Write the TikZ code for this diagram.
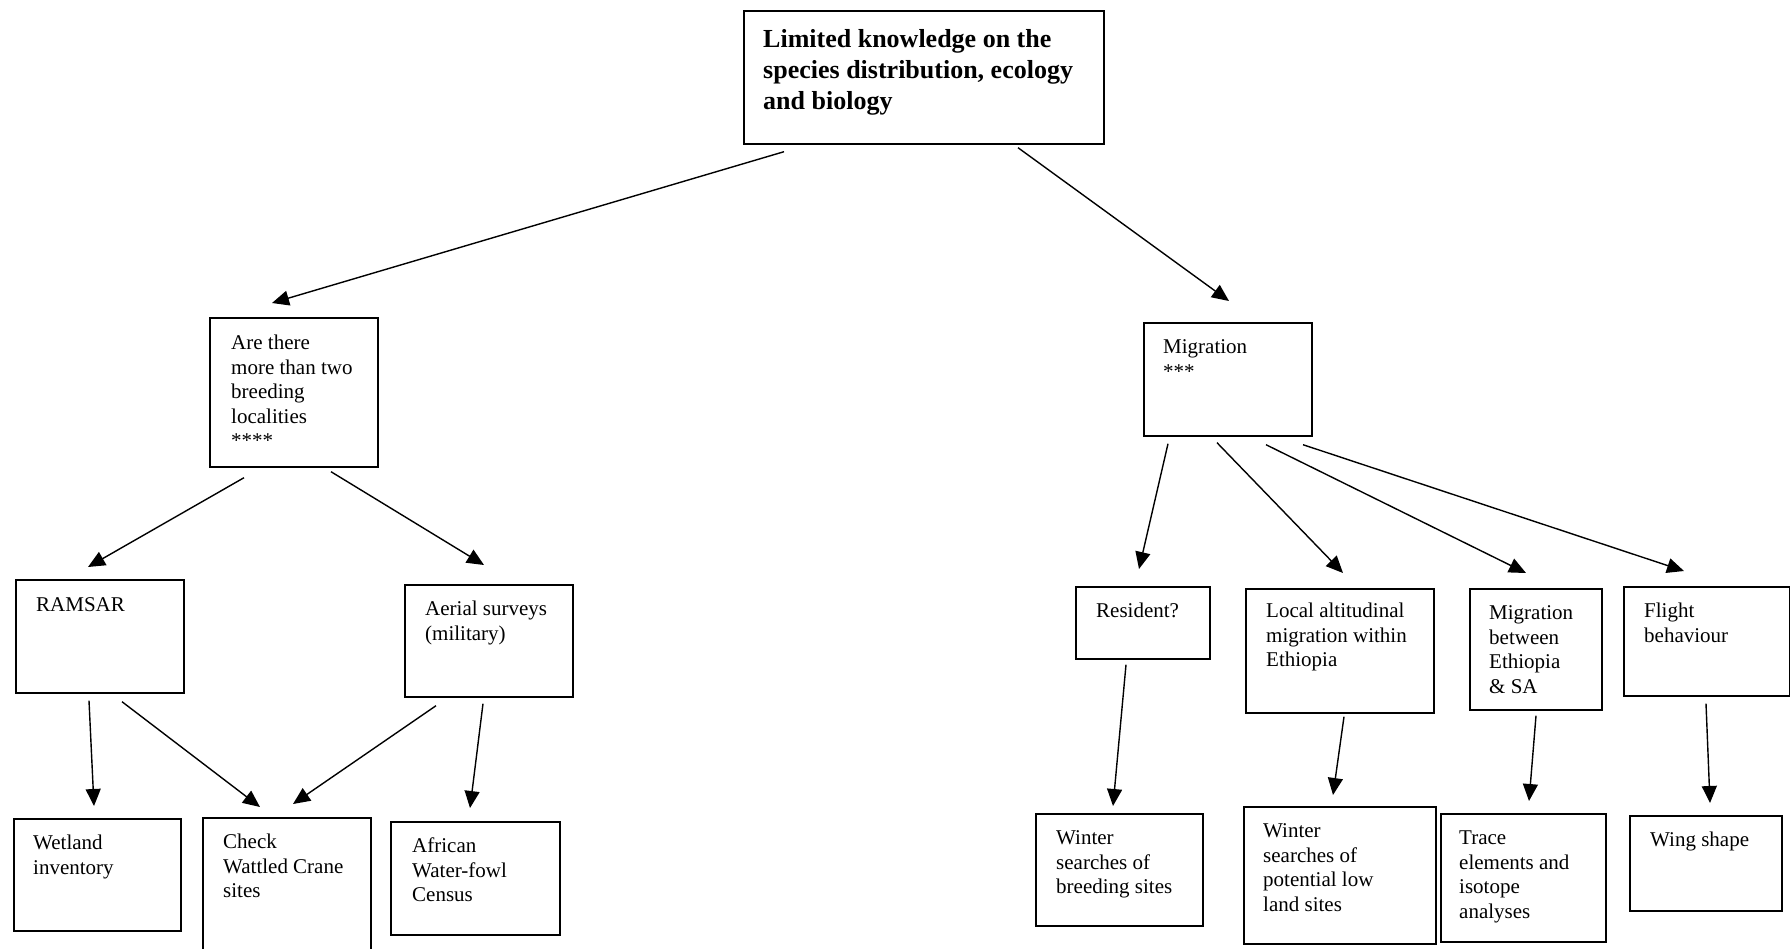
\documentclass[tikz,border=0pt]{standalone}
\usepackage{fontspec}
\setmainfont{Liberation Serif}
\usetikzlibrary{arrows.meta}
\begin{document}
\begin{tikzpicture}[x=1pt,y=-1pt,
  box/.style={draw, line width=1.7pt, inner sep=0pt, anchor=north west},
  txt/.style={anchor=north west, inner sep=0pt, align=left,
              font=\fontsize{21}{24.6}\selectfont},
  headtxt/.style={anchor=north west, inner sep=0pt, align=left,
              font=\fontsize{26}{31}\selectfont\bfseries},
  arr/.style={line width=1.4pt, -{Triangle[length=17pt,width=15pt]}}]
\useasboundingbox (0,0) rectangle (1790,948);
\clip (0,0) rectangle (1790,948);

% boxes: top-left corner and size
\node[box, minimum width=360pt, minimum height=133pt] (top) at (743,10) {};
\node[box, minimum width=168pt, minimum height=149pt] (q)   at (209,317) {};
\node[box, minimum width=168pt, minimum height=113pt] (mig) at (1143,322) {};
\node[box, minimum width=168pt, minimum height=113pt] (ram) at (15,579) {};
\node[box, minimum width=168pt, minimum height=112pt] (aer) at (404,584) {};
\node[box, minimum width=167pt, minimum height=112pt] (wet) at (13,818) {};
\node[box, minimum width=168pt, minimum height=153pt] (chk) at (202,817) {};
\node[box, minimum width=169pt, minimum height=113pt] (afr) at (390,821) {};
\node[box, minimum width=134pt, minimum height=72pt]  (res) at (1075,586) {};
\node[box, minimum width=188pt, minimum height=124pt] (loc) at (1245,588) {};
\node[box, minimum width=132pt, minimum height=121pt] (mbt) at (1469,588) {};
\node[box, minimum width=166pt, minimum height=109pt] (flt) at (1623,586) {};
\node[box, minimum width=167pt, minimum height=112pt] (wi1) at (1035,813) {};
\node[box, minimum width=192pt, minimum height=137pt] (wi2) at (1243,806) {};
\node[box, minimum width=165pt, minimum height=128pt] (trc) at (1440,813) {};
\node[box, minimum width=152pt, minimum height=95pt]  (wng) at (1629,815) {};

% texts
\node[headtxt] (topt) at (763,25.3) {\strut Limited knowledge on the\\species distribution, ecology\\and biology};
\node[txt] (qt)   at (231,332) {\strut Are there\\more than two\\breeding\\localities\\****};
\node[txt] (migt) at (1163,336) {\strut Migration\\***};
\node[txt] (ramt) at (36,594) {\strut RAMSAR};
\node[txt] (aert) at (425,598) {\strut Aerial surveys\\(military)};
\node[txt] (wett) at (33,832) {\strut Wetland\\inventory};
\node[txt] (chkt) at (223,831) {\strut Check\\Wattled Crane\\sites};
\node[txt] (afrt) at (412,835) {\strut African\\Water-fowl\\Census};
\node[txt] (rest) at (1096,600) {\strut Resident?};
\node[txt] (loct) at (1266,600) {\strut Local altitudinal\\migration within\\Ethiopia};
\node[txt] (mbtt) at (1489,602) {\strut Migration\\between\\Ethiopia\\\& SA};
\node[txt] (fltt) at (1644,600) {\strut Flight\\behaviour};
\node[txt] (wi1t) at (1056,827) {\strut Winter\\searches of\\breeding sites};
\node[txt] (wi2t) at (1263,820) {\strut Winter\\searches of\\potential low\\land sites};
\node[txt] (trct) at (1459,827) {\strut Trace\\elements and\\isotope\\analyses};
\node[txt] (wngt) at (1650,829) {\strut Wing shape};

% connectors (ends kept clear of the box borders)
\draw[arr] ([shift={(41,7)}]top.south west)   -- ([shift={(63,-14)}]q.north west);
\draw[arr] ([shift={(275,3)}]top.south west)  -- ([shift={(86,-21)}]mig.north west);
\draw[arr] ([shift={(35,10)}]q.south west)    -- ([shift={(73,-12)}]ram.north west);
\draw[arr] ([shift={(122,4)}]q.south west)    -- ([shift={(80,-19)}]aer.north west);
\draw[arr] ([shift={(74,7)}]ram.south west)   -- ([shift={(81,-12)}]wet.north west);
\draw[arr] ([shift={(107,8)}]ram.south west)  -- ([shift={(58,-10)}]chk.north west);
\draw[arr] ([shift={(32,8)}]aer.south west)   -- ([shift={(91,-13)}]chk.north west);
\draw[arr] ([shift={(79,6)}]aer.south west)   -- ([shift={(80,-13)}]afr.north west);
\draw[arr] ([shift={(25,7)}]mig.south west)   -- ([shift={(64,-17)}]res.north west);
\draw[arr] ([shift={(74,6)}]mig.south west)   -- ([shift={(98,-15)}]loc.north west);
\draw[arr] ([shift={(123,8)}]mig.south west)  -- ([shift={(57,-15)}]mbt.north west);
\draw[arr] ([shift={(160,8)}]mig.south west)  -- ([shift={(61,-15)}]flt.north west);
\draw[arr] ([shift={(51,5)}]res.south west)   -- ([shift={(78,-7)}]wi1.north west);
\draw[arr] ([shift={(99,3)}]loc.south west)   -- ([shift={(90,-11)}]wi2.north west);
\draw[arr] ([shift={(67,5)}]mbt.south west)   -- ([shift={(89,-12)}]trc.north west);
\draw[arr] ([shift={(83,7)}]flt.south west)   -- ([shift={(81,-12)}]wng.north west);
\end{tikzpicture}
\end{document}
